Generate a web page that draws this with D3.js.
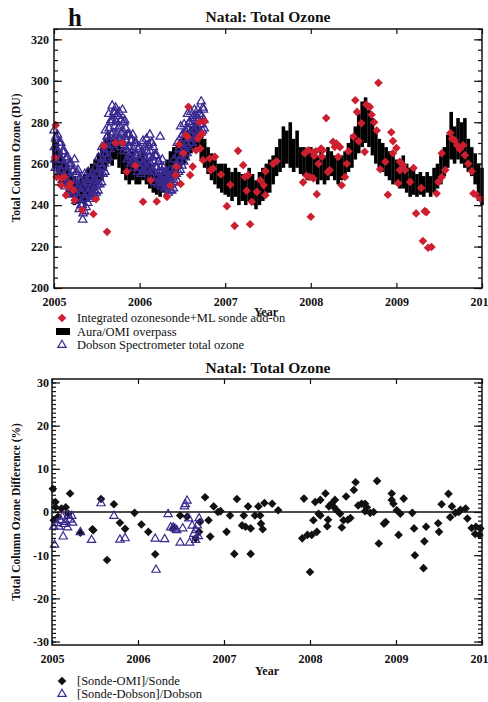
<!DOCTYPE html>
<html>
<head>
<meta charset="utf-8">
<script src="https://cdn.jsdelivr.net/npm/d3@7/dist/d3.min.js"></script>
<style>
body { margin: 0; background: #fff; }
text { font-family: "Liberation Serif", "DejaVu Serif", serif; fill: #111; }
</style>
</head>
<body>
<div id="chart"></div>
<script>
////////////////////////////////////////////////////////////////////////
// Data (Natal total ozone, 2005-2010)

// Aura/OMI overpass: low/high of the daily values in each 0.04 yr window
let omiStart = 2005.0;
let omiStep = 0.04;
let omiLow = [
  258,255,251,250,246,244,240,241,241,240,
  242,244,247,250,252,257,260,259,262,258,
  255,252,250,252,250,250,252,250,248,246,
  245,244,246,248,252,255,256,258,260,262,
  265,266,268,262,258,255,252,250,248,246,
  245,244,242,244,240,242,240,242,240,238,
  240,242,244,246,250,254,256,258,260,258,
  256,258,255,254,252,254,252,250,252,250,
  252,254,252,250,252,254,256,258,262,265,
  268,270,268,264,260,258,256,254,252,250,
  250,248,248,246,244,245,244,245,244,246,
  244,246,248,250,254,258,262,260,262,260,
  258,256,254,250,242,240];
let omiHigh = [
  272,270,266,262,260,256,254,252,253,255,
  258,260,262,265,268,272,275,272,272,270,
  268,266,264,266,262,264,266,262,260,258,
  256,256,258,262,266,268,270,272,274,276,
  278,280,278,275,272,268,265,262,260,260,
  260,258,256,258,256,255,254,258,255,252,
  256,258,260,262,264,268,272,278,276,280,
  272,276,268,268,266,268,266,264,268,264,
  268,266,264,262,264,266,270,274,278,284,
  290,292,286,282,276,272,270,268,266,264,
  262,262,264,260,258,258,255,256,254,256,
  254,258,260,264,268,274,285,278,282,280,
  282,272,268,265,260,258];

// Dobson spectrometer readings, grouped by 0.04 yr window
let dobsonWindows = [
  [2005.00, 276,268,262,258,272,273,265,260], [2005.04, 274,266,259,255,270,270,262,257],
  [2005.08, 270,262,256,252,266,266,259,254], [2005.12, 266,259,253,249,262,263,256,251],
  [2005.16, 263,256,250,247,259,260,253,248], [2005.20, 260,253,248,245,256,257,250,246],
  [2005.24, 262,250,246,242,255,256,248,244], [2005.28, 257,249,243,238,252,253,246,240],
  [2005.32, 252,246,240,233,236,249,243,237], [2005.36, 255,248,243,239,251,252,245,241],
  [2005.40, 256,250,246,243,253,253,248,244], [2005.44, 255,249,246,244,252,252,247,245],
  [2005.48, 258,252,249,246,255,255,250,247], [2005.52, 263,257,253,250,260,260,255,251],
  [2005.56, 268,262,258,255,265,265,260,256], [2005.60, 276,270,265,262,273,273,267,263],
  [2005.64, 284,277,271,267,280,281,274,269], [2005.68, 288,281,275,271,285,284,278,273],
  [2005.72, 287,280,274,270,284,283,277,272], [2005.76, 285,278,272,268,281,281,275,270],
  [2005.80, 286,276,270,266,280,281,273,268], [2005.84, 277,271,266,262,274,274,268,264],
  [2005.88, 274,268,263,260,271,271,265,261], [2005.92, 274,267,262,258,270,270,264,260],
  [2005.96, 270,264,260,256,267,267,262,258], [2006.00, 268,262,258,255,265,265,260,256],
  [2006.04, 271,265,260,256,268,268,262,258], [2006.08, 272,266,261,257,269,269,263,259],
  [2006.12, 274,266,260,254,270,270,263,257], [2006.16, 268,261,256,251,264,264,258,253],
  [2006.20, 264,258,254,250,261,261,256,252], [2006.24, 273,258,253,249,256,262,255,251],
  [2006.28, 258,254,251,248,256,256,252,249], [2006.32, 256,252,249,246,254,254,250,247],
  [2006.36, 257,253,250,247,255,255,251,248], [2006.40, 262,257,254,251,259,259,255,252],
  [2006.44, 270,264,259,256,267,267,261,257], [2006.48, 278,270,264,259,274,274,267,261],
  [2006.52, 279,272,267,263,276,275,269,265], [2006.56, 284,277,272,268,280,280,274,270],
  [2006.60, 285,279,274,270,282,282,276,272], [2006.64, 286,280,276,272,283,283,278,274],
  [2006.68, 286,281,277,274,284,284,279,275], [2006.72, 290,283,279,276,287,286,281,277]
];

// Integrated ozonesonde + ML sonde add-on [year, DU]
let sondeTotal = [
  [2005.01,263],[2005.02,278.6],[2005.03,253.6],[2005.08,249.6],[2005.09,253],
  [2005.12,253.6],[2005.14,244.8],[2005.17,248.8],[2005.19,250.4],[2005.23,247.2],
  [2005.24,242.4],[2005.33,237.6],[2005.46,235.7],[2005.49,242.8],[2005.58,268.6],
  [2005.62,227.1],[2005.72,270],[2005.80,270],[2005.85,256.1],[2005.95,259],
  [2006.04,241.6],[2006.13,252],[2006.20,241.8],[2006.32,244],[2006.36,249.5],
  [2006.42,254.5],[2006.43,258.5],[2006.46,269.3],[2006.48,250.2],[2006.51,265],
  [2006.54,273.7],[2006.56,272.9],[2006.57,287.5],[2006.59,254.5],[2006.62,258.6],
  [2006.66,266.5],[2006.68,272],[2006.70,280],[2006.71,267.3],[2006.71,273.7],
  [2006.73,274.5],[2006.74,261.7],[2006.76,280.5],[2006.82,262.5],[2006.83,256.9],
  [2006.86,257.7],[2006.88,263.3],[2006.95,254.8],[2007.02,239.5],[2007.06,249.8],
  [2007.11,230],[2007.15,266.2],[2007.21,259.3],[2007.23,253.6],[2007.27,254.5],
  [2007.25,246.9],[2007.29,230.8],[2007.31,241.6],[2007.37,246.4],[2007.41,252],
  [2007.45,249.6],[2007.47,256.4],[2007.47,244.8],[2007.56,260],[2007.60,261.2],
  [2007.91,251],[2007.93,265],[2007.95,254.2],[2007.97,266.5],[2007.99,253.6],
  [2008.00,234.4],[2008.03,265.4],[2008.03,252.9],[2008.04,263.8],[2008.06,266],
  [2008.07,245.3],[2008.09,260],[2008.12,267.3],[2008.13,263.3],[2008.14,266.5],
  [2008.18,282],[2008.20,256],[2008.22,256.9],[2008.26,270.5],[2008.28,268.1],
  [2008.30,269.7],[2008.32,263.3],[2008.34,268],[2008.36,249.6],[2008.40,253.6],
  [2008.42,260],[2008.44,266],[2008.50,273],[2008.52,290.6],[2008.54,285],
  [2008.56,270.8],[2008.59,279.5],[2008.63,265.7],[2008.65,288.5],[2008.69,287.4],
  [2008.71,283.6],[2008.74,280],[2008.77,276],[2008.79,299],[2008.81,257.3],
  [2008.87,260.9],[2008.90,245],[2008.94,275.2],[2008.96,270.9],[2008.96,265],
  [2009.00,267.6],[2009.02,250.6],[2009.04,260.9],[2009.04,256.9],[2009.08,259.3],
  [2009.10,256.9],[2009.16,251.2],[2009.20,257.9],[2009.23,236],[2009.29,248.3],
  [2009.31,222.7],[2009.33,237.1],[2009.35,236.6],[2009.37,219.4],[2009.41,219.8],
  [2009.47,245.6],[2009.49,251.2],[2009.53,253.6],[2009.53,265],[2009.57,256.9],
  [2009.63,274.8],[2009.65,272],[2009.68,271.3],[2009.71,268.9],[2009.74,267],
  [2009.78,268.9],[2009.80,264.1],[2009.84,260],[2009.88,256.4],[2009.90,245.6],
  [2009.94,244.8],[2009.98,243.2]
];

// [Sonde-OMI]/Sonde in percent
let diffOmi = [
  [2005.01,5.4],[2005.02,-1.9],[2005.04,2.3],[2005.04,1.1],[2005.07,-1.1],
  [2005.11,0.8],[2005.16,1.1],[2005.19,-0.4],[2005.21,4.3],[2005.33,-4.8],
  [2005.47,-4.0],[2005.48,-4.2],[2005.57,3.0],[2005.64,-11.1],[2005.72,1.8],
  [2005.79,-2.5],[2005.85,-3.9],[2005.96,-0.2],[2006.04,-2.9],[2006.12,-4.6],
  [2006.20,-9.8],[2006.41,-3.8],[2006.49,-0.8],[2006.57,-1.1],[2006.67,-6.1],
  [2006.71,-4.6],[2006.72,-2.3],[2006.78,3.4],[2006.82,-1.9],[2006.84,-5.7],
  [2006.88,1.3],[2006.93,0.0],[2006.96,0.2],[2007.03,-4.6],[2007.07,-0.8],
  [2007.12,-9.7],[2007.15,3.0],[2007.21,-3.1],[2007.23,-0.8],[2007.25,-3.4],
  [2007.28,1.3],[2007.31,-9.7],[2007.31,-3.8],[2007.36,-0.8],[2007.40,1.3],
  [2007.42,-0.8],[2007.43,-2.7],[2007.45,-4.0],[2007.47,2.1],[2007.56,1.9],
  [2007.63,0.4],[2007.91,-6.1],[2007.93,3.1],[2007.97,-5.3],[2008.00,-13.9],
  [2008.02,-5.3],[2008.04,-1.9],[2008.06,2.3],[2008.08,-4.6],[2008.10,-0.4],
  [2008.12,2.8],[2008.12,-0.8],[2008.18,4.3],[2008.20,-3.3],[2008.21,-1.8],
  [2008.22,1.3],[2008.25,1.9],[2008.28,1.1],[2008.29,2.8],[2008.31,0.4],
  [2008.35,-0.4],[2008.37,-3.6],[2008.39,-1.9],[2008.42,3.6],[2008.44,-1.8],
  [2008.47,-1.4],[2008.51,5.1],[2008.53,6.9],[2008.56,1.5],[2008.60,1.9],
  [2008.64,1.9],[2008.64,0.2],[2008.66,1.1],[2008.70,-0.2],[2008.74,0.0],
  [2008.78,7.2],[2008.80,-7.3],[2008.86,-2.7],[2008.88,-2.3],[2008.95,4.3],
  [2008.95,2.8],[2008.97,1.9],[2009.01,0.4],[2009.03,-5.3],[2009.05,-0.4],
  [2009.09,3.1],[2009.19,-0.2],[2009.21,-3.8],[2009.22,-10.0],[2009.33,-6.8],
  [2009.32,-13.0],[2009.35,-3.4],[2009.49,-2.6],[2009.50,-4.6],[2009.53,1.8],
  [2009.61,4.2],[2009.63,-1.2],[2009.65,1.3],[2009.69,-0.2],[2009.73,0.0],
  [2009.75,0.5],[2009.81,0.8],[2009.83,-1.5],[2009.88,-3.7],[2009.92,-5.1],
  [2009.93,-3.4],[2009.97,-5.3],[2009.98,-3.8]
];

// [Sonde-Dobson]/Dobson in percent
let diffDobson = [
  [2005.02,-3.4],[2005.03,-7.6],[2005.06,-2.6],[2005.08,-3.4],[2005.10,-1.9],
  [2005.12,-1.1],[2005.13,-5.7],[2005.14,-2.8],[2005.16,-2.3],[2005.18,-3.6],
  [2005.19,-0.8],[2005.21,-1.8],[2005.23,-0.9],[2005.24,-2.5],[2005.33,-4.7],
  [2005.46,-6.5],[2005.57,2.0],[2005.72,-0.9],[2005.79,-6.4],[2005.85,-6.1],
  [2006.20,-6.2],[2006.21,-13.4],[2006.31,-6.3],[2006.35,-0.5],[2006.38,-3.6],
  [2006.41,-3.6],[2006.43,-3.9],[2006.45,-4.2],[2006.49,-7.1],[2006.52,-3.8],
  [2006.54,1.3],[2006.55,1.8],[2006.57,2.6],[2006.59,-1.5],[2006.60,-7.1],
  [2006.63,-3.2],[2006.65,-5.1],[2006.67,-4.2],[2006.67,-6.5],[2006.69,-3.1],
  [2006.70,-5.6],[2006.71,-1.5]
];

let yearTicks = [2005, 2006, 2007, 2008, 2009, 2010];
let ozoneTicks = [200, 220, 240, 260, 280, 300, 320];
let diffTicks = [-30, -20, -10, 0, 10, 20, 30];

let sondeColor = "#cc1f30";
let dobsonColor = "#3a2a90";

////////////////////////////////////////////////////////////////////////
// Scales and helpers

let svg = d3.select("#chart").append("svg")
  .attr("width", 488)
  .attr("height", 702);

let xTop = d3.scaleLinear().domain([2005, 2010]).range([54, 482]);
let yTop = d3.scaleLinear().domain([200, 325]).range([288, 29]);
let xBot = d3.scaleLinear().domain([2005, 2010]).range([52, 482]);
let yBot = d3.scaleLinear().domain([-30.8, 30.8]).range([645, 379]);

let diamond = "M0,-4.3L4.3,0L0,4.3L-4.3,0Z";
let triangle = d3.symbol().type(d3.symbolTriangle).size(30);

function styleTicks(g, labels) {
  g.select(".domain").remove();
  g.selectAll(".tick line").attr("stroke", "#111").attr("stroke-width", 1.2);
  if (labels) {
    g.selectAll(".tick text")
      .attr("font-size", 12)
      .attr("font-weight", "bold")
      .attr("fill", "#111");
  } else {
    g.selectAll(".tick text").remove();
  }
}

// draws the boxed frame with inward ticks on all four sides
function drawFrame(x, y, majorY, minorY, labelPad) {
  let x0 = x.range()[0], x1 = x.range()[1];
  let y0 = y.range()[1], y1 = y.range()[0];

  svg.append("g").attr("transform", `translate(${x0},0)`)
    .call(d3.axisLeft(y).tickValues(minorY).tickSize(-4).tickFormat(""))
    .call(g => styleTicks(g, false));
  svg.append("g").attr("transform", `translate(${x0},0)`)
    .call(d3.axisLeft(y).tickValues(majorY).tickSize(-8).tickPadding(labelPad)
      .tickFormat(d => String(d)))
    .call(g => styleTicks(g, true));
  svg.append("g").attr("transform", `translate(${x1},0)`)
    .call(d3.axisRight(y).tickValues(minorY).tickSize(-4).tickFormat(""))
    .call(g => styleTicks(g, false));
  svg.append("g").attr("transform", `translate(${x1},0)`)
    .call(d3.axisRight(y).tickValues(majorY).tickSize(-8).tickFormat(""))
    .call(g => styleTicks(g, false));
  svg.append("g").attr("transform", `translate(0,${y0})`)
    .call(d3.axisTop(x).tickValues(yearTicks).tickSize(-5).tickFormat(""))
    .call(g => styleTicks(g, false));
  svg.append("g").attr("transform", `translate(0,${y1})`)
    .call(d3.axisBottom(x).tickValues(yearTicks).tickSize(-5).tickPadding(9)
      .tickFormat(d3.format("d")))
    .call(g => styleTicks(g, true));

  svg.append("rect")
    .attr("x", x0).attr("y", y0)
    .attr("width", x1 - x0).attr("height", y1 - y0)
    .attr("fill", "none").attr("stroke", "#111").attr("stroke-width", 1.5);
}

function titleText(y, str) {
  svg.append("text")
    .attr("x", 268).attr("y", y)
    .attr("text-anchor", "middle")
    .attr("font-size", 15.5).attr("font-weight", "bold")
    .text(str);
}

function yLabel(cy, str) {
  svg.append("text")
    .attr("transform", `translate(20,${cy}) rotate(-90)`)
    .attr("text-anchor", "middle")
    .attr("font-size", 11.5).attr("font-weight", "bold")
    .text(str);
}

////////////////////////////////////////////////////////////////////////
// Top panel: total ozone

let omiG = svg.append("g");
omiLow.forEach(function(lo, i) {
  let t = omiStart + i * omiStep;
  omiG.append("line")
    .attr("x1", xTop(t)).attr("x2", xTop(t))
    .attr("y1", yTop(lo)).attr("y2", yTop(omiHigh[i]))
    .attr("stroke", "#000").attr("stroke-width", 3.6);
});

// readings of a window are spread over the days of that window
let dobsonObs = [];
dobsonWindows.forEach(function(w) {
  w.slice(1).forEach(function(v, j) {
    dobsonObs.push([w[0] + j * 0.005, v]);
  });
});

svg.append("g").selectAll("path")
  .data(dobsonObs)
  .enter().append("path")
  .attr("d", triangle)
  .attr("transform", d => `translate(${xTop(d[0])},${yTop(d[1])})`)
  .attr("fill", "none")
  .attr("stroke", dobsonColor)
  .attr("stroke-width", 1.3);

svg.append("g").selectAll("path")
  .data(sondeTotal)
  .enter().append("path")
  .attr("d", diamond)
  .attr("transform", d => `translate(${xTop(d[0])},${yTop(d[1])})`)
  .attr("fill", sondeColor);

drawFrame(xTop, yTop, ozoneTicks, d3.range(200, 326, 5), 5);

svg.append("text")
  .attr("x", 68).attr("y", 26)
  .attr("font-size", 25).attr("font-weight", "bold")
  .text("h");
titleText(22, "Natal: Total Ozone");
yLabel(158, "Total Column Ozone (DU)");

svg.append("text")
  .attr("x", 266).attr("y", 316)
  .attr("text-anchor", "middle")
  .attr("font-size", 12).attr("font-weight", "bold")
  .text("Year");

// legend
svg.append("path").attr("d", diamond)
  .attr("transform", "translate(62,318)").attr("fill", sondeColor);
svg.append("rect")
  .attr("x", 56).attr("y", 328).attr("width", 14).attr("height", 7)
  .attr("fill", "#000");
svg.append("path").attr("d", triangle)
  .attr("transform", "translate(62,345)")
  .attr("fill", "none").attr("stroke", dobsonColor).attr("stroke-width", 1.2);

let legendTop = ["Integrated ozonesonde+ML sonde add-on",
                 "Aura/OMI overpass",
                 "Dobson Spectrometer total ozone"];
legendTop.forEach(function(s, i) {
  svg.append("text")
    .attr("x", 77).attr("y", 322 + i * 13.5)
    .attr("font-size", 12.5)
    .text(s);
});

////////////////////////////////////////////////////////////////////////
// Bottom panel: percent differences

svg.append("line")
  .attr("x1", xBot(2005)).attr("x2", xBot(2010))
  .attr("y1", yBot(0)).attr("y2", yBot(0))
  .attr("stroke", "#111").attr("stroke-width", 1.3);

svg.append("g").selectAll("path")
  .data(diffOmi)
  .enter().append("path")
  .attr("d", diamond)
  .attr("transform", d => `translate(${xBot(d[0])},${yBot(d[1])})`)
  .attr("fill", "#111");

svg.append("g").selectAll("path")
  .data(diffDobson)
  .enter().append("path")
  .attr("d", triangle)
  .attr("transform", d => `translate(${xBot(d[0])},${yBot(d[1])})`)
  .attr("fill", "none")
  .attr("stroke", dobsonColor)
  .attr("stroke-width", 1.2);

drawFrame(xBot, yBot, diffTicks, d3.range(-30, 31, 1), 3);

titleText(373, "Natal: Total Ozone");
yLabel(512, "Total Column Ozone Difference (%)");

svg.append("text")
  .attr("x", 267).attr("y", 675)
  .attr("text-anchor", "middle")
  .attr("font-size", 12).attr("font-weight", "bold")
  .text("Year");

svg.append("path").attr("d", diamond)
  .attr("transform", "translate(62,681)").attr("fill", "#111");
svg.append("path").attr("d", triangle)
  .attr("transform", "translate(62,694)")
  .attr("fill", "none").attr("stroke", dobsonColor).attr("stroke-width", 1.2);

let legendBot = ["[Sonde-OMI]/Sonde", "[Sonde-Dobson]/Dobson"];
legendBot.forEach(function(s, i) {
  svg.append("text")
    .attr("x", 77).attr("y", 685 + i * 13)
    .attr("font-size", 12.5)
    .text(s);
});
</script>
</body>
</html>
